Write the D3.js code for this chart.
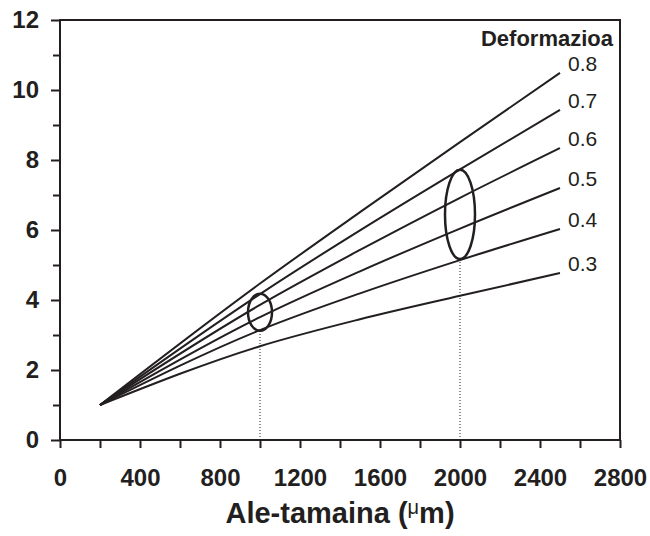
<!DOCTYPE html>
<html lang="eu">
<head>
    <meta charset="UTF-8">
    <title>Deformazioa vs ale-tamaina</title>
    <script src="https://d3js.org/d3.v7.min.js"></script>
    <style>
        body { margin: 0; background: white; }
        svg { display: block; font-family: "Liberation Sans", Arial, sans-serif; }
        .axis path, .axis line { stroke: #231f20; stroke-width: 2px; }
        .axis text { fill: #231f20; font-size: 24px; font-weight: bold; font-family: "Liberation Sans", Arial, sans-serif; }
    </style>
</head>
<body>
<div id="chart"></div>
<script>
    // grain size (μm) where the curves were read
    const sizes = [200, 1000, 1500, 2000, 2500];

    // strain levels, top curve first
    const strains = ["0.8", "0.7", "0.6", "0.5", "0.4", "0.3"];

    // values
    const curve08 = [1, 4.47, 6.51, 8.51, 10.49];
    const curve07 = [1, 4.17, 5.99, 7.73, 9.43];
    const curve06 = [1, 3.86, 5.43, 6.92, 8.34];
    const curve05 = [1, 3.51, 4.82, 6.04, 7.20];
    const curve04 = [1, 3.14, 4.19, 5.14, 6.03];
    const curve03 = [1, 2.68, 3.45, 4.12, 4.77];
    const curves = [curve08, curve07, curve06, curve05, curve04, curve03];

    // highlighted spreads (ellipses) at two grain sizes
    const markSizes = [1000, 2000];
    const markLow = [3.12, 5.17];
    const markHigh = [4.18, 7.72];
    const markHalfWidth = [60, 75];

    const xMajor = d3.range(0, 2801, 400);
    const xMinor = d3.range(200, 2601, 400);
    const yMajor = d3.range(0, 13, 2);
    const yMinor = d3.range(1, 12, 2);

    const W = 650, H = 536;
    const margin = { top: 20, right: 30, bottom: 96, left: 60 };

    const svg = d3.select("#chart").append("svg")
        .attr("width", W)
        .attr("height", H);

    const x = d3.scaleLinear().domain([0, 2800]).range([margin.left, W - margin.right]);
    const y = d3.scaleLinear().domain([0, 12]).range([H - margin.bottom, margin.top]);

    // minor ticks
    svg.append("g").attr("class", "axis")
        .attr("transform", `translate(0,${y(0)})`)
        .call(d3.axisBottom(x).tickValues(xMinor).tickSize(8).tickSizeOuter(0).tickFormat(""))
        .select(".domain").remove();
    svg.append("g").attr("class", "axis")
        .attr("transform", `translate(${x(0)},0)`)
        .call(d3.axisLeft(y).tickValues(yMinor).tickSize(7).tickSizeOuter(0).tickFormat(""))
        .select(".domain").remove();

    // major ticks + labels
    svg.append("g").attr("class", "axis")
        .attr("transform", `translate(0,${y(0)})`)
        .call(d3.axisBottom(x).tickValues(xMajor).tickSize(8).tickSizeOuter(0).tickPadding(21).tickFormat(d3.format("d")))
        .select(".domain").remove();
    svg.append("g").attr("class", "axis")
        .attr("transform", `translate(${x(0)},0)`)
        .call(d3.axisLeft(y).tickValues(yMajor).tickSize(9).tickSizeOuter(0).tickPadding(12).tickFormat(d3.format("d")))
        .select(".domain").remove();

    // frame
    svg.append("rect")
        .attr("x", x(0)).attr("y", y(12))
        .attr("width", x(2800) - x(0)).attr("height", y(0) - y(12))
        .attr("fill", "none").attr("stroke", "#231f20").attr("stroke-width", 2);

    // dotted guides down to the axis
    svg.selectAll(".guide")
        .data(markSizes)
        .enter().append("line")
        .attr("x1", d => x(d)).attr("x2", d => x(d))
        .attr("y1", y(0)).attr("y2", (d, i) => y(markLow[i]))
        .attr("stroke", "#231f20").attr("stroke-width", 1)
        .attr("stroke-dasharray", "1,2");

    // curves
    const line = d3.line()
        .x((d, i) => x(sizes[i]))
        .y(d => y(d))
        .curve(d3.curveMonotoneX);

    svg.selectAll(".curve")
        .data(curves)
        .enter().append("path")
        .attr("d", line)
        .attr("fill", "none")
        .attr("stroke", "#231f20")
        .attr("stroke-width", 2);

    // ellipses
    svg.selectAll(".mark")
        .data(markSizes)
        .enter().append("ellipse")
        .attr("cx", d => x(d))
        .attr("cy", (d, i) => (y(markLow[i]) + y(markHigh[i])) / 2)
        .attr("rx", (d, i) => x(d + markHalfWidth[i]) - x(d))
        .attr("ry", (d, i) => (y(markLow[i]) - y(markHigh[i])) / 2)
        .attr("fill", "none")
        .attr("stroke", "#231f20")
        .attr("stroke-width", 2.5);

    // strain labels at curve ends
    const last = sizes.length - 1;
    svg.selectAll(".lbl")
        .data(strains)
        .enter().append("text")
        .attr("x", x(sizes[last]) + 8)
        .attr("y", (d, i) => y(curves[i][last]) - 2)
        .attr("font-size", 21)
        .attr("fill", "#231f20")
        .text(d => d);

    svg.append("text")
        .attr("x", 613).attr("y", 46)
        .attr("text-anchor", "end")
        .attr("font-size", 22)
        .attr("font-weight", "bold")
        .attr("fill", "#231f20")
        .text("Deformazioa");

    // x axis title
    const title = svg.append("text")
        .attr("x", (x(0) + x(2800)) / 2)
        .attr("y", 523)
        .attr("text-anchor", "middle")
        .attr("font-size", 29)
        .attr("font-weight", "bold")
        .attr("fill", "#231f20");
    title.append("tspan").text("Ale-tamaina (");
    title.append("tspan").attr("font-size", 20).attr("font-weight", "normal").attr("dy", -9).text("μ");
    title.append("tspan").attr("dy", 9).text("m)");
</script>
</body>
</html>
